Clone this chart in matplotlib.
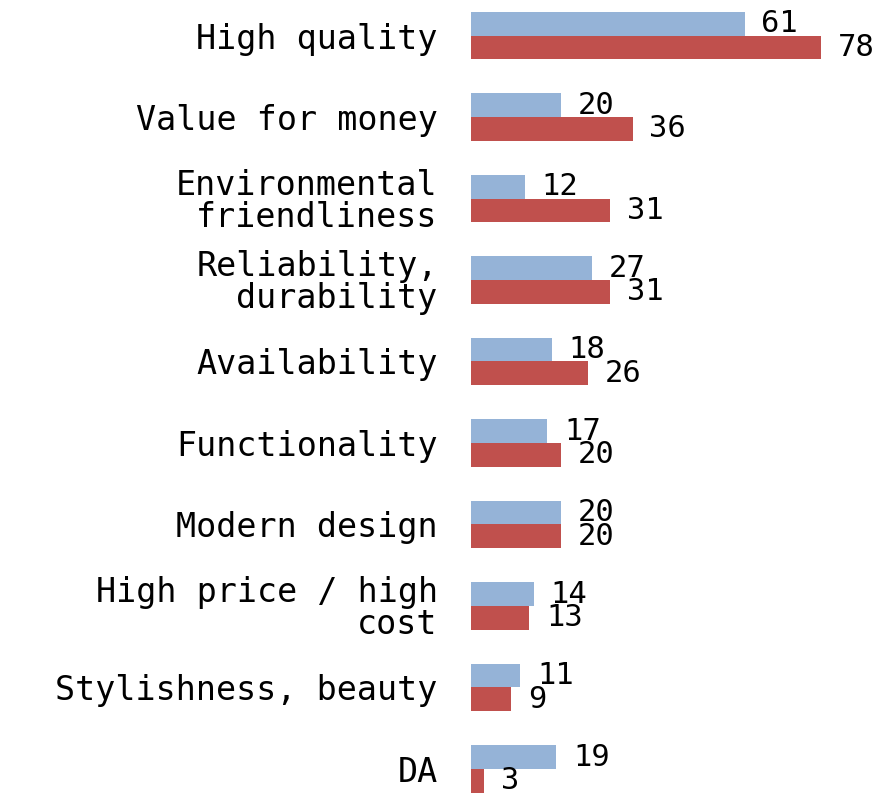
import numpy as np
import matplotlib.pyplot as plt

categories = ["High quality", "Value for money", "Environmental\nfriendliness",
              "Reliability,\ndurability", "Availability", "Functionality",
              "Modern design", "High price / high\ncost", "Stylishness, beauty", "DA"]
blue_vals = [61, 20, 12, 27, 18, 17, 20, 14, 11, 19]
red_vals = [78, 36, 31, 31, 26, 20, 20, 13, 9, 3]

blue = "#95B3D7"
red = "#C0504D"
mono = "DejaVu Sans Mono"

fig = plt.figure(figsize=(8.83, 7.95), dpi=100)
ax = fig.add_axes([471 / 883, 0, (875 - 471) / 883, 1])

y = np.arange(len(categories))
h = 0.29
bars_b = ax.barh(y - h / 2, blue_vals, height=h, color=blue)
bars_r = ax.barh(y + h / 2, red_vals, height=h, color=red)

for bars, vals in [(bars_b, blue_vals), (bars_r, red_vals)]:
    for b, v in zip(bars, vals):
        ax.annotate(str(v), (b.get_width(), b.get_y() + b.get_height() / 2),
                    xytext=(12, 0), textcoords="offset points",
                    ha="left", va="center", fontsize=22, family=mono)

ax.set_xlim(0, 90)
ax.set_ylim(9.32, -0.436)
ax.set_yticks(y)
ax.set_yticklabels(categories, fontsize=24, family=mono, linespacing=0.95)
ax.tick_params(axis="y", length=0, pad=24)
ax.set_xticks([])
for s in ax.spines.values():
    s.set_visible(False)

fig.savefig("out.png", dpi=100)
